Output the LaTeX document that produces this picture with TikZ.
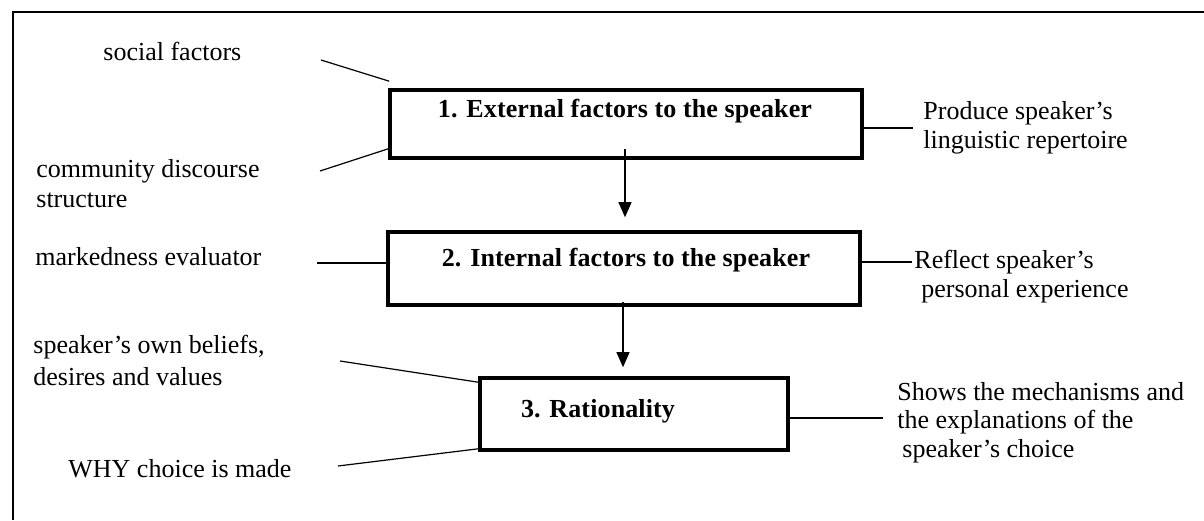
\documentclass[tikz,border=0pt]{standalone}
\usepackage{fontspec}
\setmainfont{Liberation Serif}
\newfontfamily\titlefont[LetterSpace=0.5]{Liberation Serif}
\usetikzlibrary{arrows.meta,calc}
\begin{document}
\begin{tikzpicture}[x=0.5pt,y=-0.5pt,
  lbl/.style={anchor=base west, inner sep=0, align=left, font=\fontsize{13}{14.25}\selectfont},
  stage/.style={draw, line width=1.8pt, inner sep=0},
  ttl/.style={anchor=base, inner sep=0, font=\titlefont\bfseries\fontsize{13}{15}\selectfont},
  link/.style={line width=0.6pt},
  flow/.style={line width=0.6pt, -{Triangle[length=7.5pt,width=6.5pt]}}]
\useasboundingbox (0,0) rectangle (1204,520);

% frame
\draw[line width=0.7pt] (1204,12) -- (13,12) -- (13,520);

% the three stages
\node[stage, minimum width=236pt, minimum height=34pt] (b1) at (626,124) {};
\node[stage, minimum width=236pt, minimum height=36.5pt] (b2) at (624,268.5) {};
\node[stage, minimum width=154pt, minimum height=36pt] (b3) at (634,414) {};
\node[ttl] (t1) at (625,117) {1. External factors to the speaker};
\node[ttl] (t2) at (626,266) {2. Internal factors to the speaker};
\node[ttl] (t3) at (598,417) {3. Rationality};

% labels on the left (multi-line labels are placed by their last baseline)
\node[lbl] (sf) at (103,60) {social factors};
\node[lbl, font=\fontsize{13}{15}\selectfont] (cd) at (36,207) {community discourse\\structure};
\node[lbl] (me) at (35,265) {markedness evaluator};
\node[lbl, font=\fontsize{13}{16}\selectfont] (sb) at (33,385) {speaker's own beliefs,\\desires and values};
\node[lbl] (why) at (68,477) {WHY choice is made};

% labels on the right
\node[lbl] (pr) at (923,148) {Produce speaker's\\linguistic repertoire};
\node[lbl] (rf) at (914,297) {Reflect speaker's\\\hspace{3.5pt}personal experience};
\node[lbl] (sh) at (897,457) {Shows the mechanisms and\\the explanations of the\\\hspace{2.5pt}speaker's choice};

% free ends of the connectors
\coordinate (csf) at (321,60);
\coordinate (ccd) at (320,171);
\coordinate (cme) at (317,263);
\coordinate (csb) at (340,361);
\coordinate (cwhy) at (338,466);
\coordinate (cpr) at (913,128);
\coordinate (crf) at (912,262);
\coordinate (csh) at (883,418);

% connectors
\draw[link] (csf) -- ($(b1.north west)+(1,-7)$);
\draw[link] (ccd) -- ($(b1.south west)+(0,-11)$);
\draw[link] (cme) -- (cme -| b2.west);
\draw[link] (csb) -- ($(b3.north west)+(0,6)$);
\draw[link] (cwhy) -- ($(b3.south west)+(0,-3)$);
\draw[link] (cpr -| b1.east) -- (cpr);
\draw[link] (crf -| b2.east) -- (crf);
\draw[link] (csh -| b3.east) -- (csh);

% flow between stages
\draw[flow] ($(b1.south)+(-1,-11)$) coordinate (a1) -- ($(a1 |- b2.north)+(0,-13)$);
\draw[flow] ($(b2.south)+(-1,-5)$) coordinate (a2) -- ($(a2 |- b3.north)+(0,-9)$);
\end{tikzpicture}
\end{document}
